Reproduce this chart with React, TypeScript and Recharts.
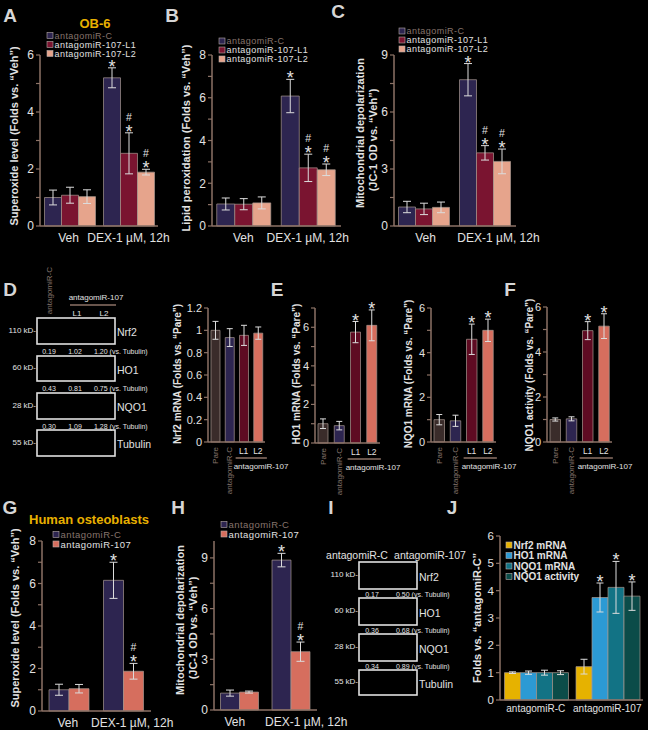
import React from 'react';
import { BarChart, Bar, XAxis, YAxis, ErrorBar, LabelList, Cell } from 'recharts';

const FONT = '"Liberation Sans", Arial, Helvetica, sans-serif';
const TXT = '#e2e2e2';
const DIM = '#86746c';
const AXIS = '#8c7266';
const YELLOW = '#e8b000';
const NAVY = '#2d2550';
const CRIMSON = '#7a1430';
const PEACH = '#e6a48c';
const PARE = '#3a2c2a';
const WINE = '#5e0b22';
const CORAL = '#d66e5e';
const J_COLORS = ['#e6b200', '#2c9ad4', '#127385', '#0b4c49'];

// ---------- categories / series names ----------
const treatCats = ['Veh', 'DEX-1 µM, 12h'];
const obSeries = ['antagomiR-C', 'antagomiR-107-L1', 'antagomiR-107-L2'];
const hoSeries = ['antagomiR-C', 'antagomiR-107'];
const laneCats = ['Pare', 'antagomiR-C', 'L1', 'L2'];
const laneGroupLabel = 'antagomiR-107';
const jCats = ['antagomiR-C', 'antagomiR-107'];
const jSeries = ['Nrf2 mRNA', 'HO1 mRNA', 'NQO1 mRNA', 'NQO1 activity'];

// ---------- A: superoxide OB-6 ----------
const aC = [1.0, 5.2];
const aCErr = [0.26, 0.35];
const aCMark = ['', '*'];
const aL1 = [1.08, 2.55];
const aL1Err = [0.28, 0.72];
const aL1Mark = ['', '#*'];
const aL2 = [1.03, 1.89];
const aL2Err = [0.24, 0.1];
const aL2Mark = ['', '#*'];

// ---------- B: lipid peroxidation ----------
const bC = [1.03, 6.08];
const bCErr = [0.28, 0.78];
const bCMark = ['', '*'];
const bL1 = [1.02, 2.72];
const bL1Err = [0.26, 0.64];
const bL1Mark = ['', '#*'];
const bL2 = [1.08, 2.63];
const bL2Err = [0.28, 0.27];
const bL2Mark = ['', '#*'];

// ---------- C: mitochondrial depolarization ----------
const cC = [1.0, 7.7];
const cCErr = [0.3, 0.85];
const cCMark = ['', '*'];
const cL1 = [0.9, 3.85];
const cL1Err = [0.3, 0.38];
const cL1Mark = ['', '#*'];
const cL2 = [0.98, 3.4];
const cL2Err = [0.28, 0.65];
const cL2Mark = ['', '#*'];

// ---------- D/E/F lane charts ----------
const nrf2 = [1.0, 0.935, 0.955, 0.975];
const nrf2Err = [0.08, 0.08, 0.09, 0.055];
const nrf2Mark = ['', '', '', ''];
const ho1 = [1.0, 0.9, 5.75, 6.1];
const ho1Err = [0.25, 0.22, 0.55, 0.8];
const ho1Mark = ['', '', '*', '*'];
const nqo1m = [1.0, 0.95, 4.6, 5.0];
const nqo1mErr = [0.23, 0.25, 0.68, 0.5];
const nqo1mMark = ['', '', '*', '*'];
const nqo1a = [1.0, 1.03, 4.95, 5.15];
const nqo1aErr = [0.07, 0.09, 0.4, 0.55];
const nqo1aMark = ['', '', '*', '*'];

// ---------- G: human osteoblasts superoxide ----------
const gC = [1.0, 6.15];
const gCErr = [0.26, 0.85];
const gCMark = ['', '*'];
const g107 = [1.05, 1.87];
const g107Err = [0.2, 0.37];
const g107Mark = ['', '#*'];

// ---------- H: mito depolarization ----------
const hC = [1.0, 8.87];
const hCErr = [0.18, 0.4];
const hCMark = ['', '*'];
const h107 = [1.06, 3.45];
const h107Err = [0.06, 0.57];
const h107Mark = ['', '#*'];

// ---------- J ----------
const jNrf2 = [1.0, 1.22];
const jNrf2Err = [0.03, 0.27];
const jNrf2Mark = ['', ''];
const jHo1 = [1.0, 3.75];
const jHo1Err = [0.06, 0.53];
const jHo1Mark = ['', '*'];
const jNqo1m = [1.0, 4.12];
const jNqo1mErr = [0.09, 0.95];
const jNqo1mMark = ['', '*'];
const jNqo1a = [1.0, 3.8];
const jNqo1aErr = [0.07, 0.52];
const jNqo1aMark = ['', '*'];

// ---------- blots ----------
const blotProteins = ['Nrf2', 'HO1', 'NQO1', 'Tubulin'];
const blotWeights = ['110 kD-', '60 kD-', '28 kD-', '55 kD-'];
const blotDRatios = [
  [0.19, 1.02, 1.2],
  [0.43, 0.81, 0.75],
  [0.3, 1.09, 1.28],
];
const blotIRatios = [
  [0.17, 0.5],
  [0.36, 0.68],
  [0.34, 0.89],
];
const ratioSuffix = '(vs. Tubulin)';

type S = { name: string; vals: number[]; errs: number[]; marks: string[]; color: string };

function buildRows(cats: string[], series: S[]) {
  return cats.map((c, i) => {
    const r: any = { cat: c };
    series.forEach((s, k) => {
      r['v' + k] = s.vals[i];
      r['e' + k] = s.errs[i];
      r['m' + k] = `${s.marks[i]}|${s.errs[i]}|${s.vals[i]}`;
    });
    return r;
  });
}

function MarkLabel(props: any) {
  const vb = props.viewBox || {};
  const x = Number(props.x ?? vb.x);
  const y = Number(props.y ?? vb.y);
  const w = Number(props.width ?? vb.width);
  const h = Number(props.height ?? vb.height);
  const parts = String(props.value ?? '').split('|');
  const mk = parts[0];
  if (!mk || !isFinite(x) || !isFinite(y)) return null;
  const e = Number(parts[1]);
  const v = Number(parts[2]);
  const errTop = y - (v ? (e * Math.abs(h)) / v : 0);
  const cx = x + w / 2;
  return (
    <g>
      {mk.includes('*') && (
        <text x={cx} y={errTop + 5} textAnchor="middle" fontSize={18} fill={TXT}>
          *
        </text>
      )}
      {mk.includes('#') && (
        <text x={cx} y={errTop - 12} textAnchor="middle" fontSize={10.5} fill={TXT}>
          #
        </text>
      )}
    </g>
  );
}

const fmtTick = (step: number) => (v: number) =>
  Math.abs(v / step - Math.round(v / step)) < 1e-6 ? String(v) : '';

const catTick = (font: number, dxs: number[]) => (tp: any) => {
  const idx = Number(tp.index ?? tp.payload?.index ?? 0);
  return (
    <text
      x={Number(tp.x) + (dxs[idx] || 0)}
      y={Number(tp.y) + 1}
      dy={font * 0.71}
      textAnchor="middle"
      fontSize={font}
      fill={TXT}
    >
      {tp.payload?.value}
    </text>
  );
};

type GP = {
  axisX: number;
  right: number;
  top: number;
  bottom: number;
  cats: string[];
  series: S[];
  domain: [number, number];
  ticks: number[];
  step: number;
  gap: number;
  tickFont: number;
  catFont: number;
  errW: number;
  catTickSize?: number;
  catDx?: number[];
};

function GroupChart(p: GP) {
  const YW = 36,
    MT = 16,
    XH = 26,
    MR = 40;
  const w = p.right - p.axisX + YW + MR;
  const h = p.bottom - p.top + MT + XH;
  const data = buildRows(p.cats, p.series);
  return (
    <div style={{ position: 'absolute', left: p.axisX - YW, top: p.top - MT, width: w, height: h }}>
      <BarChart
        width={w}
        height={h}
        data={data}
        margin={{ top: MT, right: MR, left: 0, bottom: 0 }}
        barGap={0}
        barCategoryGap={p.gap}
      >
        <XAxis
          dataKey="cat"
          height={XH}
          interval={0}
          axisLine={{ stroke: AXIS, strokeWidth: 1.5 }}
          tickLine={false}
          tickSize={p.catTickSize ?? 4}
          tick={catTick(p.catFont, p.catDx ?? [])}
        />
        <YAxis
          width={YW}
          type="number"
          domain={p.domain}
          ticks={p.ticks}
          interval={0}
          tickSize={4}
          axisLine={{ stroke: AXIS, strokeWidth: 1.5 }}
          tickLine={{ stroke: AXIS, strokeWidth: 1.2 }}
          tick={{ fill: TXT, fontSize: p.tickFont }}
          tickFormatter={fmtTick(p.step)}
        />
        {p.series.map((s, k) => (
          <Bar key={k} dataKey={'v' + k} fill={s.color} stroke="#a8988f" strokeWidth={0.7} isAnimationActive={false}>
            <ErrorBar dataKey={'e' + k} width={p.errW} stroke="#dcdcdc" strokeWidth={1} direction="y" />
            <LabelList dataKey={'m' + k} content={MarkLabel} />
          </Bar>
        ))}
      </BarChart>
    </div>
  );
}

const laneColors = [PARE, NAVY, WINE, CORAL];

function makeLaneTick(band: number) {
  return (tp: any) => {
    const x = Number(tp.x);
    const y = Number(tp.y);
    const v = tp.payload?.value;
    if (v === 'Pare' || v === 'antagomiR-C') {
      return (
        <text x={x + 3} y={y + 5} transform={`rotate(-90 ${x + 3} ${y + 5})`} textAnchor="end" fontSize={8} fill={DIM}>
          {v}
        </text>
      );
    }
    return (
      <g>
        <text x={x} y={y + 12} textAnchor="middle" fontSize={8.5} fill={TXT}>
          {v}
        </text>
        {v === 'L1' && (
          <g>
            <line x1={x - 8} x2={x + band + 9} y1={y + 16} y2={y + 16} stroke={AXIS} strokeWidth={1.5} />
            <text x={x - 10} y={y + 27} textAnchor="start" fontSize={8} fill={TXT}>
              {laneGroupLabel}
            </text>
          </g>
        )}
      </g>
    );
  };
}

type LP = {
  axisX: number;
  right: number;
  top: number;
  bottom: number;
  vals: number[];
  errs: number[];
  marks: string[];
  domain: [number, number];
  ticks: number[];
  step: number;
  barSize: number;
};

function LaneChart(p: LP) {
  const YW = 36,
    MT = 16,
    XH = 60,
    MR = 40;
  const w = p.right - p.axisX + YW + MR;
  const h = p.bottom - p.top + MT + XH;
  const band = (p.right - p.axisX) / laneCats.length;
  const data = laneCats.map((c, i) => ({
    cat: c,
    v: p.vals[i],
    e: p.errs[i],
    m: `${p.marks[i]}|${p.errs[i]}|${p.vals[i]}`,
  }));
  return (
    <div style={{ position: 'absolute', left: p.axisX - YW, top: p.top - MT, width: w, height: h }}>
      <BarChart width={w} height={h} data={data} margin={{ top: MT, right: MR, left: 0, bottom: 0 }}>
        <XAxis
          dataKey="cat"
          height={XH}
          interval={0}
          axisLine={{ stroke: AXIS, strokeWidth: 1.5 }}
          tickLine={false}
          tickSize={0}
          tickMargin={0}
          tick={makeLaneTick(band)}
        />
        <YAxis
          width={YW}
          type="number"
          domain={p.domain}
          ticks={p.ticks}
          interval={0}
          tickSize={4}
          axisLine={{ stroke: AXIS, strokeWidth: 1.5 }}
          tickLine={{ stroke: AXIS, strokeWidth: 1.2 }}
          tick={{ fill: TXT, fontSize: 11 }}
          tickFormatter={fmtTick(p.step)}
        />
        <Bar dataKey="v" barSize={p.barSize} stroke="#a8988f" strokeWidth={0.7} isAnimationActive={false}>
          {laneColors.map((c, i) => (
            <Cell key={i} fill={c} />
          ))}
          <ErrorBar dataKey="e" width={3} stroke="#dcdcdc" strokeWidth={1} direction="y" />
          <LabelList dataKey="m" content={MarkLabel} />
        </Bar>
      </BarChart>
    </div>
  );
}

function Tx(props: {
  x: number;
  y: number;
  children: React.ReactNode;
  size?: number;
  fill?: string;
  bold?: boolean;
  anchor?: 'start' | 'middle' | 'end';
  rot?: number;
  ls?: number;
}) {
  const { x, y, children, size = 11, fill = TXT, bold = false, anchor = 'middle', rot = 0, ls = 0 } = props;
  return (
    <text
      x={x}
      y={y}
      fontSize={size}
      fill={fill}
      fontWeight={bold ? 'bold' : 'normal'}
      textAnchor={anchor}
      dominantBaseline="central"
      letterSpacing={ls || undefined}
      transform={rot ? `rotate(${rot} ${x} ${y})` : undefined}
    >
      {children}
    </text>
  );
}

function Legend(props: {
  x: number;
  ys: number[];
  labels: string[];
  colors: string[];
  textColors: string[];
  size?: number;
  bold?: boolean;
  ls?: number;
}) {
  const { x, ys, labels, colors, textColors, size = 9, bold = false, ls = 0.45 } = props;
  return (
    <g>
      {labels.map((l, i) => (
        <g key={i}>
          <rect x={x} y={ys[i] - 3} width={6} height={6} fill={colors[i]} stroke="#b8aca8" strokeWidth={0.6} />
          <Tx x={x + 7.5} y={ys[i]} anchor="start" size={size} fill={textColors[i]} bold={bold} ls={ls}>
            {l}
          </Tx>
        </g>
      ))}
    </g>
  );
}

function Blot(props: {
  boxX: number;
  boxW: number;
  boxYs: number[];
  boxHs: number[];
  ratios: number[][];
  ratioXs: number[];
  ratioDy: number;
}) {
  const { boxX, boxW, boxYs, boxHs, ratios, ratioXs, ratioDy } = props;
  return (
    <g>
      {boxYs.map((y, i) => (
        <g key={i}>
          <rect x={boxX} y={y} width={boxW} height={boxHs[i]} fill="#000" stroke="#e0e0e0" strokeWidth={1.6} />
          <Tx x={boxX - 1} y={y + boxHs[i] / 2 - 1} anchor="end" size={8}>
            {blotWeights[i]}
          </Tx>
          <Tx x={boxX + boxW + 2} y={y + boxHs[i] / 2 + 1} anchor="start" size={10.5}>
            {blotProteins[i]}
          </Tx>
        </g>
      ))}
      {ratios.map((row, r) => (
        <g key={r}>
          {row.map((v, k) =>
            k === row.length - 1 ? (
              <Tx key={k} x={ratioXs[k]} y={boxYs[r] + boxHs[r] + ratioDy} anchor="start" size={7}>
                {`${v.toFixed(2)} ${ratioSuffix}`}
              </Tx>
            ) : (
              <Tx key={k} x={ratioXs[k]} y={boxYs[r] + boxHs[r] + ratioDy} size={7}>
                {v.toFixed(2)}
              </Tx>
            )
          )}
        </g>
      ))}
    </g>
  );
}

const rng = (a: number, b: number, s: number) => {
  const out: number[] = [];
  for (let v = a; v <= b + 1e-9; v += s) out.push(Math.round(v * 100) / 100);
  return out;
};

export default function App() {
  const seriesA: S[] = [
    { name: obSeries[0], vals: aC, errs: aCErr, marks: aCMark, color: NAVY },
    { name: obSeries[1], vals: aL1, errs: aL1Err, marks: aL1Mark, color: CRIMSON },
    { name: obSeries[2], vals: aL2, errs: aL2Err, marks: aL2Mark, color: PEACH },
  ];
  const seriesB: S[] = [
    { name: obSeries[0], vals: bC, errs: bCErr, marks: bCMark, color: NAVY },
    { name: obSeries[1], vals: bL1, errs: bL1Err, marks: bL1Mark, color: CRIMSON },
    { name: obSeries[2], vals: bL2, errs: bL2Err, marks: bL2Mark, color: PEACH },
  ];
  const seriesC: S[] = [
    { name: obSeries[0], vals: cC, errs: cCErr, marks: cCMark, color: NAVY },
    { name: obSeries[1], vals: cL1, errs: cL1Err, marks: cL1Mark, color: CRIMSON },
    { name: obSeries[2], vals: cL2, errs: cL2Err, marks: cL2Mark, color: PEACH },
  ];
  const seriesG: S[] = [
    { name: hoSeries[0], vals: gC, errs: gCErr, marks: gCMark, color: NAVY },
    { name: hoSeries[1], vals: g107, errs: g107Err, marks: g107Mark, color: CORAL },
  ];
  const seriesH: S[] = [
    { name: hoSeries[0], vals: hC, errs: hCErr, marks: hCMark, color: NAVY },
    { name: hoSeries[1], vals: h107, errs: h107Err, marks: h107Mark, color: CORAL },
  ];
  const seriesJ: S[] = [
    { name: jSeries[0], vals: jNrf2, errs: jNrf2Err, marks: jNrf2Mark, color: J_COLORS[0] },
    { name: jSeries[1], vals: jHo1, errs: jHo1Err, marks: jHo1Mark, color: J_COLORS[1] },
    { name: jSeries[2], vals: jNqo1m, errs: jNqo1mErr, marks: jNqo1mMark, color: J_COLORS[2] },
    { name: jSeries[3], vals: jNqo1a, errs: jNqo1aErr, marks: jNqo1aMark, color: J_COLORS[3] },
  ];

  return (
    <div
      style={{
        position: 'absolute',
        left: 0,
        top: 0,
        width: 648,
        height: 730,
        background: '#000',
        fontFamily: FONT,
        overflow: 'hidden',
      }}
    >
      <GroupChart axisX={40} right={158} top={55} bottom={226} cats={treatCats} series={seriesA} domain={[0, 6]} ticks={rng(0, 6, 1)} step={2} gap={4.5} tickFont={12} catFont={12} errW={4} catDx={[-1, 0]} />
      <GroupChart axisX={212} right={341} top={55} bottom={226} cats={treatCats} series={seriesB} domain={[0, 8]} ticks={rng(0, 8, 1)} step={2} gap={4.75} tickFont={12} catFont={12} errW={4} catDx={[-1, -1]} />
      <GroupChart axisX={394} right={516} top={55} bottom={226} cats={treatCats} series={seriesC} domain={[0, 9]} ticks={rng(0, 9, 1.5)} step={3} gap={4.5} tickFont={12} catFont={12} errW={4} catDx={[1, 13]} />

      <LaneChart axisX={208} right={265} top={308} bottom={442} vals={nrf2} errs={nrf2Err} marks={nrf2Mark} domain={[0, 1.2]} ticks={[0, 0.2, 0.4, 0.6, 0.8, 1, 1.2]} step={0.2} barSize={9} />
      <LaneChart axisX={315} right={380} top={308} bottom={443} vals={ho1} errs={ho1Err} marks={ho1Mark} domain={[0, 7]} ticks={rng(0, 7, 1)} step={2} barSize={10} />
      <LaneChart axisX={431} right={496} top={308} bottom={442} vals={nqo1m} errs={nqo1mErr} marks={nqo1mMark} domain={[0, 6]} ticks={rng(0, 6, 1)} step={2} barSize={10.5} />
      <LaneChart axisX={547} right={612} top={307} bottom={442} vals={nqo1a} errs={nqo1aErr} marks={nqo1aMark} domain={[0, 6]} ticks={rng(0, 6, 1)} step={2} barSize={10.5} />

      <GroupChart axisX={42} right={151} top={541} bottom={711} cats={treatCats} series={seriesG} domain={[0, 8]} ticks={rng(0, 8, 1)} step={2} gap={7} tickFont={12} catFont={12} errW={4} catDx={[-1.5, 8.5]} />
      <GroupChart axisX={214} right={317} top={541} bottom={710} cats={treatCats} series={seriesH} domain={[0, 10]} ticks={rng(0, 9, 1.5)} step={3} gap={6.5} tickFont={12} catFont={12} errW={4} catDx={[-5, 15]} />
      <GroupChart axisX={500} right={643} top={536} bottom={700} cats={jCats} series={seriesJ} domain={[0, 6]} ticks={rng(0, 6, 1)} step={1} gap={4.5} tickFont={11.5} catFont={10} errW={3.5} catTickSize={2} />

      <svg width={648} height={730} style={{ position: 'absolute', left: 0, top: 0, pointerEvents: 'none' }}>
        {[
          ['A', 10, 15],
          ['B', 172, 15],
          ['C', 338, 11],
          ['D', 10, 289],
          ['E', 277, 289],
          ['F', 510, 289],
          ['G', 10, 507],
          ['H', 178, 507],
          ['I', 331, 507],
          ['J', 452, 507],
        ].map(([l, x, y]) => (
          <Tx key={l as string} x={x as number} y={y as number} size={19} bold fill="#d6d6d6">
            {l}
          </Tx>
        ))}

        <Tx x={95} y={23.5} size={13} bold fill={YELLOW}>OB-6</Tx>
        <Tx x={89} y={519} size={13} bold fill={YELLOW}>Human osteoblasts</Tx>

        <Tx x={14} y={136} rot={-90} size={11} bold>Superoxide level (Folds vs. “Veh”)</Tx>
        <Tx x={186} y={138} rot={-90} size={11} bold>Lipid peroxidation (Folds vs. “Veh”)</Tx>
        <Tx x={360} y={133} rot={-90} size={11} bold>Mitochondrial depolarization</Tx>
        <Tx x={373} y={140} rot={-90} size={11} bold>(JC-1 OD vs. “Veh”)</Tx>
        <Tx x={177} y={374} rot={-90} size={10} bold>Nrf2 mRNA (Folds vs. “Pare”)</Tx>
        <Tx x={296} y={374} rot={-90} size={10} bold>HO1 mRNA (Folds vs. “Pare”)</Tx>
        <Tx x={408} y={374} rot={-90} size={10} bold>NQO1 mRNA (Folds vs. “Pare”)</Tx>
        <Tx x={529} y={375} rot={-90} size={10} bold>NQO1 activity (Folds vs. “Pare”)</Tx>
        <Tx x={15} y={618} rot={-90} size={11} bold>Superoxide level (Folds vs. “Veh”)</Tx>
        <Tx x={180} y={620} rot={-90} size={11} bold>Mitochondrial depolarization</Tx>
        <Tx x={193} y={628} rot={-90} size={11} bold>(JC-1 OD vs. “Veh”)</Tx>
        <Tx x={477} y={618} rot={-90} size={11} bold>Folds vs. “antagomiR-C”</Tx>

        <Legend x={47} ys={[35.5, 44.5, 53.5]} labels={obSeries} colors={[NAVY, CRIMSON, PEACH]} textColors={[DIM, TXT, TXT]} />
        <Legend x={219} ys={[41, 50, 59]} labels={obSeries} colors={[NAVY, CRIMSON, PEACH]} textColors={[DIM, TXT, TXT]} />
        <Legend x={399} ys={[31, 40, 49]} labels={obSeries} colors={[NAVY, CRIMSON, PEACH]} textColors={[DIM, TXT, TXT]} />
        <Legend x={53} ys={[534.5, 544]} labels={hoSeries} colors={[NAVY, CORAL]} textColors={[DIM, TXT]} size={9.5} />
        <Legend x={221} ys={[524.5, 534]} labels={hoSeries} colors={[NAVY, CORAL]} textColors={[DIM, TXT]} size={9.5} />
        <Legend x={506} ys={[545, 555.5, 566, 576.5]} labels={jSeries} colors={J_COLORS} textColors={[TXT, TXT, TXT, TXT]} bold size={10} ls={0} />

        <text x={52} y={267} transform="rotate(-90 52 267)" textAnchor="end" fontSize={8} fill={DIM}>
          {laneCats[1]}
        </text>
        <Tx x={96} y={297} size={8}>{laneGroupLabel}</Tx>
        <line x1={70} x2={116} y1={305} y2={305} stroke={AXIS} strokeWidth={1.5} />
        <Tx x={77} y={313} size={8}>{laneCats[2]}</Tx>
        <Tx x={104} y={313} size={8}>{laneCats[3]}</Tx>
        <Blot boxX={37} boxW={78} boxYs={[318, 356, 393, 430]} boxHs={[26, 25, 26, 26]} ratios={blotDRatios} ratioXs={[49, 75, 94]} ratioDy={7} />

        <Tx x={357} y={555} size={10.5}>{hoSeries[0]}</Tx>
        <Tx x={430} y={555} size={10.5}>{hoSeries[1]}</Tx>
        <Blot boxX={359} boxW={58} boxYs={[562, 598, 634, 670]} boxHs={[27, 27, 27, 25]} ratios={blotIRatios} ratioXs={[372, 396]} ratioDy={5} />
      </svg>
    </div>
  );
}
